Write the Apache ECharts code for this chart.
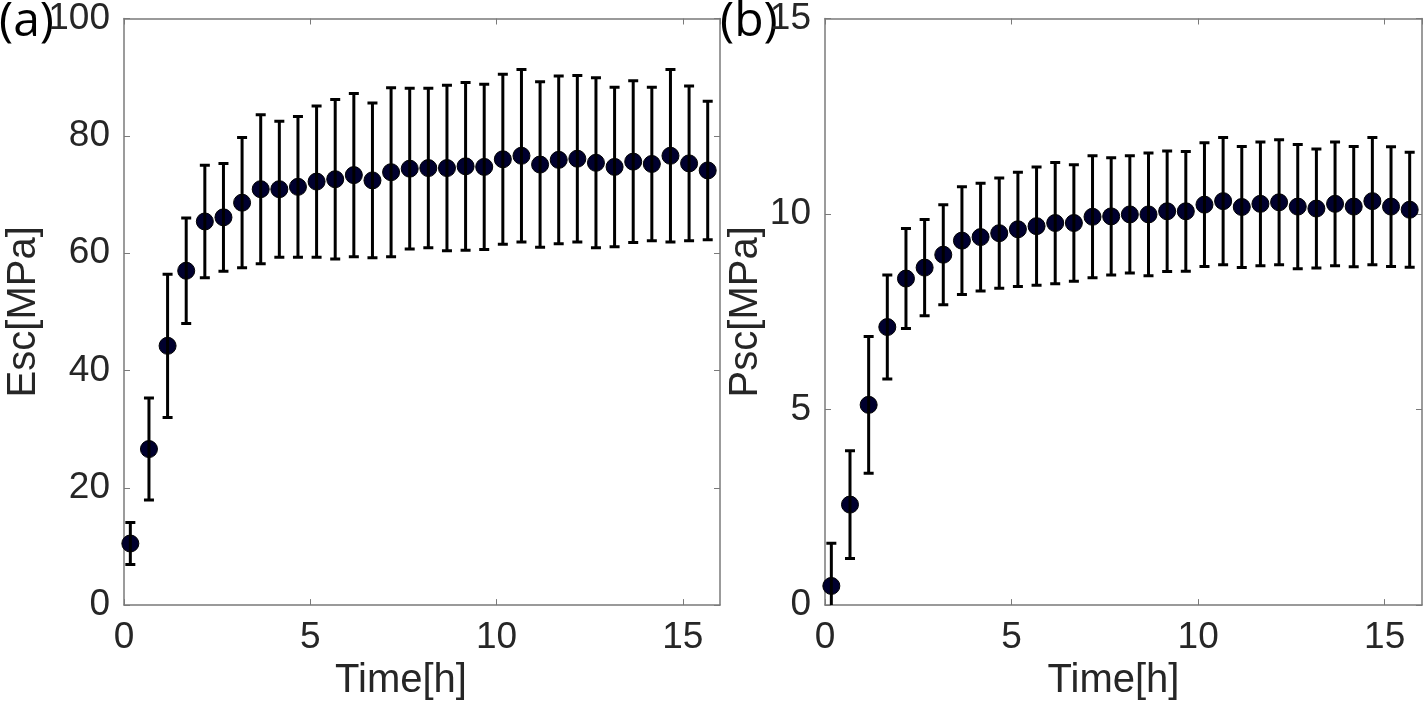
<!DOCTYPE html>
<html lang="en">
<head>
<meta charset="utf-8" />
<script src="https://cdn.jsdelivr.net/npm/echarts@6/dist/echarts.min.js"></script>
<style>
	html, body { margin: 0; padding: 0; background: #fff; }
	#main { width: 1423px; height: 706px; }
</style>
</head>
<body>
<div id="main"></div>
<script type="text/javascript">
// sampling times [h]
var times = [0.17, 0.67, 1.17, 1.67, 2.17, 2.67, 3.17, 3.67, 4.17, 4.67, 5.17, 5.67, 6.17, 6.67, 7.17, 7.67,
	8.17, 8.67, 9.17, 9.67, 10.17, 10.67, 11.17, 11.67, 12.17, 12.67, 13.17, 13.67, 14.17, 14.67, 15.17, 15.67];
// (a) Esc mean and standard deviation [MPa]
var escMean = [10.5, 26.6, 44.2, 57.0, 65.4, 66.1, 68.6, 70.9, 70.9, 71.3, 72.2, 72.6, 73.3, 72.4, 73.8, 74.4,
	74.5, 74.5, 74.8, 74.7, 76.0, 76.6, 75.1, 75.9, 76.1, 75.4, 74.7, 75.6, 75.2, 76.6, 75.3, 74.1];
var escSd = [3.6, 8.7, 12.2, 9.0, 9.6, 9.2, 11.1, 12.7, 11.6, 12.0, 12.9, 13.6, 13.9, 13.2, 14.4, 13.7,
	13.6, 14.1, 14.3, 14.1, 14.5, 14.7, 14.1, 14.3, 14.2, 14.5, 13.6, 13.8, 13.1, 14.7, 13.2, 11.8];
// (b) Psc mean and standard deviation [MPa]
var pscMean = [0.49, 2.57, 5.12, 7.11, 8.35, 8.63, 8.96, 9.32, 9.41, 9.51, 9.61, 9.69, 9.77, 9.77, 9.93, 9.94,
	9.99, 9.99, 10.07, 10.07, 10.24, 10.33, 10.18, 10.26, 10.30, 10.19, 10.14, 10.26, 10.19, 10.33, 10.19, 10.11];
var pscSd = [1.09, 1.38, 1.75, 1.33, 1.28, 1.23, 1.28, 1.38, 1.38, 1.41, 1.46, 1.51, 1.55, 1.49, 1.56, 1.50,
	1.50, 1.57, 1.54, 1.53, 1.58, 1.63, 1.55, 1.58, 1.60, 1.59, 1.52, 1.58, 1.54, 1.63, 1.53, 1.47];

var escTicks = [0, 20, 40, 60, 80, 100];
var pscTicks = [0, 5, 10, 15];
var timeTicks = [0, 5, 10, 15];

var axisGray = '#7a7a7a';
var textGray = '#262626';
var numFont = 'Liberation Sans';

function points(mean) {
	return times.map(function (t, i) { return [t, mean[i]]; });
}
function bars(mean, sd) {
	return times.map(function (t, i) { return [t, mean[i] - sd[i], mean[i] + sd[i]]; });
}

function errRender(params, api) {
	var x = api.value(0);
	var lo = api.coord([x, api.value(1)]);
	var hi = api.coord([x, api.value(2)]);
	var w = 5;
	var st = { stroke: '#000', lineWidth: 3 };
	return {
		type: 'group',
		children: [
			{ type: 'line', shape: { x1: lo[0], y1: lo[1], x2: hi[0], y2: hi[1] }, style: st },
			{ type: 'line', shape: { x1: hi[0] - w, y1: hi[1], x2: hi[0] + w, y2: hi[1] }, style: st },
			{ type: 'line', shape: { x1: lo[0] - w, y1: lo[1], x2: lo[0] + w, y2: lo[1] }, style: st }
		]
	};
}

function xAxes(gi, namePad) {
	var step = timeTicks[1] - timeTicks[0];
	return [{
		type: 'value', gridIndex: gi, min: 0, max: 16, interval: step,
		name: 'Time[h]', nameLocation: 'middle', nameGap: 48,
		nameTextStyle: { fontFamily: numFont, fontSize: 40, color: textGray, padding: namePad },
		axisLine: { show: true, onZero: false, lineStyle: { color: axisGray, width: 1.5 } },
		axisTick: { show: true, inside: true, length: 6, lineStyle: { color: axisGray } },
		axisLabel: { fontFamily: numFont, fontSize: 37, color: textGray, margin: 14, showMaxLabel: false },
		splitLine: { show: false }
	}, {
		type: 'value', gridIndex: gi, position: 'top', min: 0, max: 16, interval: step,
		axisLine: { show: true, onZero: false, lineStyle: { color: axisGray, width: 1.5 } },
		axisTick: { show: true, inside: true, length: 6, lineStyle: { color: axisGray } },
		axisLabel: { show: false },
		splitLine: { show: false }
	}];
}

function yAxes(gi, name, max, step, gap) {
	return [{
		type: 'value', gridIndex: gi, min: 0, max: max, interval: step,
		name: name, nameLocation: 'middle', nameGap: gap,
		nameTextStyle: { fontFamily: numFont, fontSize: 40, color: textGray },
		axisLine: { show: true, onZero: false, lineStyle: { color: axisGray, width: 1.5 } },
		axisTick: { show: true, inside: true, length: 6, lineStyle: { color: axisGray } },
		axisLabel: { fontFamily: numFont, fontSize: 37, color: textGray, margin: 14 },
		splitLine: { show: false }
	}, {
		type: 'value', gridIndex: gi, position: 'right', min: 0, max: max, interval: step,
		axisLine: { show: true, onZero: false, lineStyle: { color: axisGray, width: 1.5 } },
		axisTick: { show: true, inside: true, length: 6, lineStyle: { color: axisGray } },
		axisLabel: { show: false },
		splitLine: { show: false }
	}];
}

var marker = {
	type: 'scatter', symbol: 'circle', symbolSize: 17, clip: false, z: 2,
	itemStyle: { color: '#00002e', borderColor: '#000', borderWidth: 1, opacity: 1 }
};

var myChart = echarts.init(document.getElementById('main'), null, { renderer: 'canvas' });
var option = {
	animation: false,
	backgroundColor: '#fff',
	grid: [
		{ left: 124, top: 15, width: 596, height: 596 },
		{ left: 825, top: 15, width: 597, height: 596 }
	],
	xAxis: xAxes(0, [0, 42, 0, 0]).concat(xAxes(1, [0, 20, 0, 0])),
	yAxis: yAxes(0, 'Esc[MPa]', escTicks[escTicks.length - 1], escTicks[1] - escTicks[0], 72)
		.concat(yAxes(1, 'Psc[MPa]', pscTicks[pscTicks.length - 1], pscTicks[1] - pscTicks[0], 51)),
	series: [
		Object.assign({}, marker, { xAxisIndex: 0, yAxisIndex: 0, data: points(escMean) }),
		{ type: 'custom', xAxisIndex: 0, yAxisIndex: 0, clip: true, z: 3, renderItem: errRender,
			encode: { x: 0, y: [1, 2] }, data: bars(escMean, escSd) },
		Object.assign({}, marker, { xAxisIndex: 2, yAxisIndex: 2, data: points(pscMean) }),
		{ type: 'custom', xAxisIndex: 2, yAxisIndex: 2, clip: true, z: 3, renderItem: errRender,
			encode: { x: 0, y: [1, 2] }, data: bars(pscMean, pscSd) }
	],
	graphic: [
		{ type: 'text', left: -1, top: -2, style: { text: '(a)', font: '48px "Open Sans"', fill: '#000' } },
		{ type: 'text', left: 720, top: -2, style: { text: '(b)', font: '48px "Open Sans"', fill: '#000' } }
	]
};
myChart.setOption(option);
</script>
</body>
</html>
